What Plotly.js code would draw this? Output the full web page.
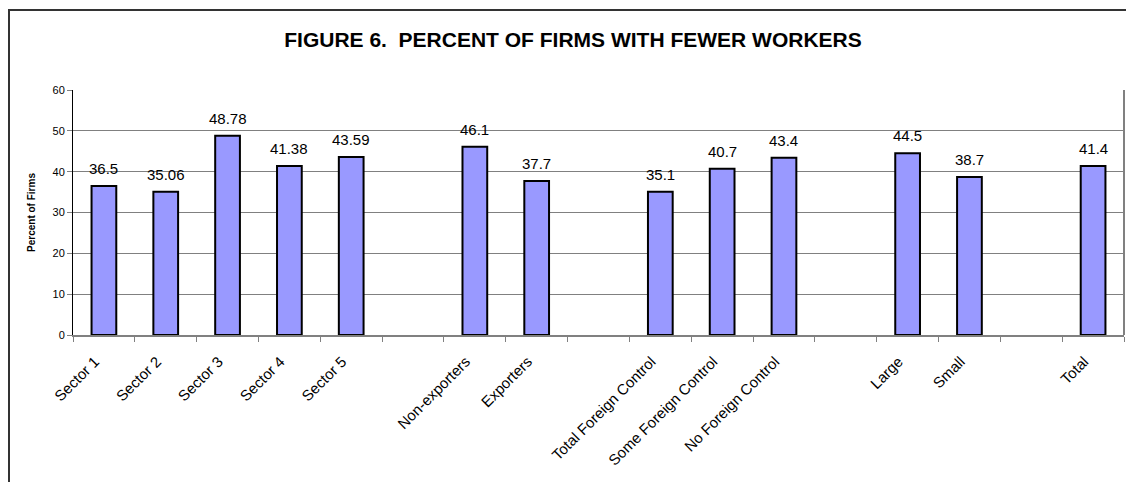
<!DOCTYPE html>
<html>
<head>
<meta charset="utf-8">
<script src="https://cdn.plot.ly/plotly-3.0.1.min.js"></script>
<style>
  html, body { margin: 0; padding: 0; background: #fff; }
  #wrap { position: relative; width: 1126px; height: 482px; overflow: hidden; }
  #chart { position: absolute; left: 0; top: 0; width: 1126px; height: 482px; }
  #frame { position: absolute; left: 8px; top: 9px; width: 1200px; height: 600px;
           border-left: 2px solid #333; border-top: 2px solid #333; pointer-events: none; }
</style>
</head>
<body>
<div id="wrap">
  <div id="chart"></div>
  <div id="frame"></div>
</div>
<script>
// Groups of categories (gaps between groups are empty category slots)
const sectorCats = ["Sector 1", "Sector 2", "Sector 3", "Sector 4", "Sector 5"];
const sectorVals = [36.5, 35.06, 48.78, 41.38, 43.59];
const exportCats = ["Non-exporters", "Exporters"];
const exportVals = [46.1, 37.7];
const foreignCats = ["Total Foreign Control", "Some Foreign Control", "No Foreign Control"];
const foreignVals = [35.1, 40.7, 43.4];
const sizeCats = ["Large", "Small"];
const sizeVals = [44.5, 38.7];
const totalCats = ["Total"];
const totalVals = [41.4];
const valueLabels = ["36.5", "35.06", "48.78", "41.38", "43.59", "46.1", "37.7",
                     "35.1", "40.7", "43.4", "44.5", "38.7", "41.4"];

const groups = [sectorCats, exportCats, foreignCats, sizeCats, totalCats];
const categoryOrder = [];
groups.forEach((g, i) => {
  if (i > 0) categoryOrder.push(" ".repeat(i));
  g.forEach(c => categoryOrder.push(c));
});

const cats = [].concat(sectorCats, exportCats, foreignCats, sizeCats, totalCats);
const vals = [].concat(sectorVals, exportVals, foreignVals, sizeVals, totalVals);

const font = "Liberation Sans, Arial, sans-serif";

const trace = {
  type: "bar",
  x: cats,
  y: vals,
  marker: { color: "#9999FF", line: { color: "#000000", width: 2 } },
  hoverinfo: "x+y"
};

const annotations = cats.map((c, i) => ({
  x: c, y: vals[i], xref: "x", yref: "y",
  text: valueLabels[i], showarrow: false,
  yanchor: "bottom", yshift: 7,
  font: { family: font, size: 15, color: "#000" }
}));

const layout = {
  width: 1126, height: 482,
  paper_bgcolor: "#ffffff", plot_bgcolor: "#ffffff",
  margin: { l: 73, r: 2, t: 90, b: 147 },
  bargap: 0.6,
  showlegend: false,
  title: {
    text: "<b>FIGURE 6.  PERCENT OF FIRMS WITH FEWER WORKERS</b>",
    font: { family: font, size: 21, color: "#000" },
    x: 573 / 1126, xref: "container", xanchor: "center",
    y: 1 - 40 / 482, yref: "container", yanchor: "middle"
  },
  xaxis: {
    type: "category",
    categoryorder: "array",
    categoryarray: categoryOrder,
    range: [-0.5, categoryOrder.length - 0.5],
    tickson: "boundaries",
    ticks: "outside", ticklen: 5, tickcolor: "#808080", tickwidth: 1,
    tickangle: -45,
    ticklabelstandoff: 10,
    ticklabelshift: -9,
    tickfont: { family: font, size: 15, color: "#000" },
    showline: true, linecolor: "#808080", linewidth: 2,
    showgrid: false, zeroline: false,
    mirror: false
  },
  yaxis: {
    range: [0, 60], dtick: 10,
    ticks: "outside", ticklen: 5, tickcolor: "#808080",
    tickfont: { family: font, size: 11, color: "#000" },
    showline: true, linecolor: "#000", linewidth: 1,
    showgrid: true, gridcolor: "#808080", gridwidth: 1,
    zeroline: false,
    title: { text: "<b>Percent of Firms</b>", font: { family: font, size: 10, color: "#000" }, standoff: 15 }
  },
  shapes: [
    { type: "line", xref: "paper", yref: "paper", x0: 1, x1: 1, y0: 0, y1: 1,
      line: { color: "#808080", width: 2 } }
  ],
  annotations: annotations
};

Plotly.newPlot("chart", [trace], layout, { staticPlot: true, displayModeBar: false });
</script>
</body>
</html>
